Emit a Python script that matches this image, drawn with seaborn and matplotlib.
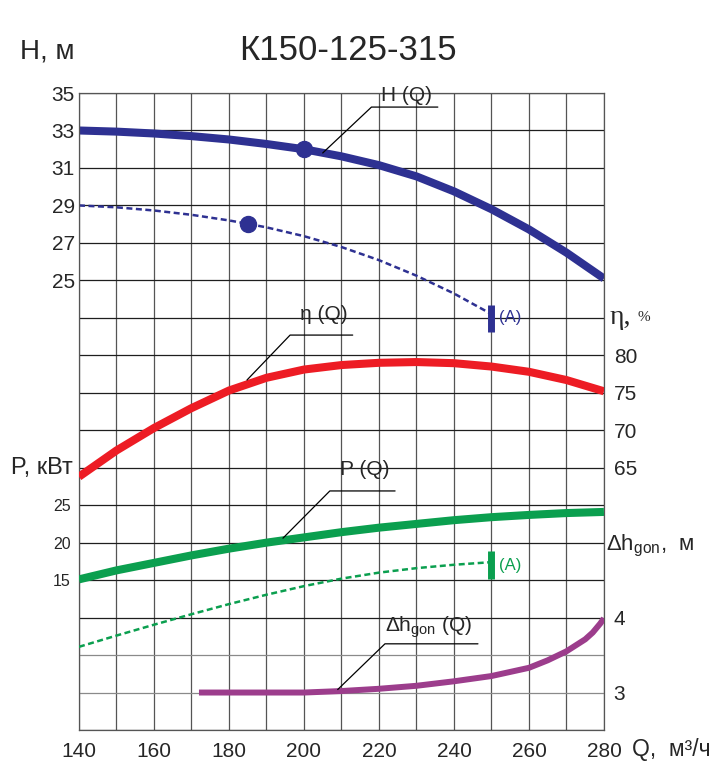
import numpy as np
import pandas as pd
import matplotlib
matplotlib.use("Agg")
import matplotlib.pyplot as plt
import matplotlib.transforms as mtransforms
import seaborn as sns

# --- values ---
q = [140, 150, 160, 170, 180, 190, 200, 210, 220, 230, 240, 250, 260, 270, 280]
head = [33.0, 32.94, 32.84, 32.7, 32.52, 32.28, 32.0, 31.62, 31.15, 30.55, 29.75, 28.8, 27.72, 26.48, 25.1]
eff = [63.8, 67.3, 70.3, 72.95, 75.3, 77.0, 78.1, 78.7, 79.0, 79.1, 78.95, 78.5, 77.8, 76.7, 75.2]
power = [15.1, 16.3, 17.3, 18.3, 19.2, 20.0, 20.7, 21.4, 22.0, 22.5, 23.0, 23.4, 23.7, 23.95, 24.1]

q_a = [140, 150, 160, 170, 180, 185, 190, 200, 210, 220, 230, 240, 250]
head_a = [29.0, 28.9, 28.73, 28.5, 28.2, 28.02, 27.83, 27.36, 26.78, 26.08, 25.25, 24.3, 23.2]
q_pa = [140, 150, 160, 170, 180, 190, 200, 210, 220, 230, 240, 250]
power_a = [6.1, 7.6, 9.05, 10.45, 11.8, 13.05, 14.2, 15.2, 16.0, 16.6, 17.05, 17.4]

q_dh = [172, 180, 190, 200, 210, 220, 230, 240, 250, 260, 265, 270, 275, 277, 279, 280]
npsh = [3.0, 3.0, 3.0, 3.0, 3.02, 3.05, 3.09, 3.15, 3.22, 3.33, 3.43, 3.55, 3.71, 3.8, 3.92, 3.99]

dot_q, dot_h = 200, 32.0
dot_qa, dot_ha = 185, 28.02
a_q = 250
a_head_span = [22.25, 23.7]
a_power_span = [15.2, 18.85]

blue = "#2e3192"
red = "#ed1c24"
green = "#0b9f4f"
purple = "#9c3d8c"

sns.set_style("white")
plt.rcParams['font.family'] = ['Liberation Sans', 'DejaVu Sans']
plt.rcParams['mathtext.fontset'] = 'custom'
plt.rcParams['mathtext.rm'] = 'Liberation Sans'

fig = plt.figure(figsize=(7.16, 7.72), dpi=100)
ax = fig.add_axes([0.1103, 0.0544, 0.7332, 0.8251])
ax.set_xlim(140, 280)
ax.set_ylim(1, 35)

xt = np.arange(140, 281, 10)
ax.set_xticks(xt)
ax.set_xticklabels([str(v) if v % 20 == 0 else '' for v in xt])
yt = np.arange(1, 36, 2)
ax.set_yticks(yt)
ax.set_yticklabels([str(v) if v >= 25 else '' for v in yt])
ax.tick_params(length=0, labelsize=15)
ax.tick_params(axis='x', pad=8.5)
ax.tick_params(axis='y', pad=3)
ax.grid(True, color='#555555', lw=0.9)
for v, gl in zip(yt, ax.get_ygridlines()):
    gl.set_color('#8a8a8a' if v in (3, 5) else '#1e1e1e')
for s in ax.spines.values():
    s.set_color('#555555')
    s.set_linewidth(0.9)


def twin(lo, hi):
    t = ax.twinx()
    t.set_ylim(lo, hi)
    for s in t.spines.values():
        s.set_visible(False)
    t.patch.set_visible(False)
    t.grid(False)
    t.tick_params(length=0)
    return t


ax_eta = twin(30, 115)
ax_eta.set_yticks([65, 70, 75, 80])
ax_eta.tick_params(labelsize=15, pad=7)

ax_p = twin(-5, 80)
ax_p.yaxis.tick_left()
ax_p.set_yticks([15, 20, 25])
ax_p.tick_params(labelsize=11.5, pad=6)

ax_dh = twin(2.5, 11)
ax_dh.set_yticks([3, 4])
ax_dh.tick_params(labelsize=15, pad=7)

thick = dict(lw=5.8, solid_capstyle='butt', solid_joinstyle='round')
dashed = dict(lw=1.8, linestyle=(0, (2.4, 1.4)))

# curves
sns.lineplot(x=q, y=head, ax=ax, color=blue, **thick)
sns.lineplot(x=q_a, y=head_a, ax=ax, color=blue, **dashed)
ax.plot([dot_q, dot_qa], [dot_h, dot_ha], 'o', color=blue, ms=11.5)
ax.plot([a_q, a_q], a_head_span, color=blue, lw=5, solid_capstyle='butt')

sns.lineplot(x=q, y=eff, ax=ax_eta, color=red, **thick)
sns.lineplot(x=q, y=power, ax=ax_p, color=green, **thick)
sns.lineplot(x=q_pa, y=power_a, ax=ax_p, color=green, **dashed)
ax_p.plot([a_q, a_q], a_power_span, color=green, lw=5, solid_capstyle='butt')
sns.lineplot(x=q_dh, y=npsh, ax=ax_dh, color=purple, lw=4.3,
             solid_capstyle='butt', solid_joinstyle='round')

for a in (ax, ax_eta, ax_p, ax_dh):
    a.set_xlabel('')
    a.set_ylabel('')
ax.set_xlim(140, 280)

# leader lines and labels
ax.plot([205, 218, 235.7], [31.8, 34.25, 34.25], color='k', lw=0.9, clip_on=False)
ax.text(220.5, 34.35, "H (Q)", fontsize=15, va='bottom')
ax_eta.plot([184.8, 196.3, 213], [76.7, 82.7, 82.7], color='k', lw=0.9)
ax_eta.text(199, 85.4, "η (Q)", fontsize=15, va='center')
ax_p.plot([194.4, 206.9, 224.3], [20.6, 26.9, 26.9], color='k', lw=0.9)
ax_p.text(209.6, 29.7, "P (Q)", fontsize=15, va='center')
ax_dh.plot([209, 221.6, 246.4], [3.04, 3.65, 3.65], color='k', lw=0.9)
ax_dh.text(221.6, 3.87, r"$\mathregular{\Delta h_{gon}}$ (Q)", fontsize=15, va='center')

ax.text(252, 23.0, "(A)", color=blue, fontsize=12, va='center')
ax_p.text(252, 17.0, "(A)", color=green, fontsize=12, va='center')

# axis titles
tr_h = mtransforms.blended_transform_factory(ax.transAxes, ax.transData)
ax.text(1.011, 23.0, "η,", transform=tr_h, fontsize=20, family='Liberation Serif', va='center')
ax.text(1.064, 23.0, "%", transform=tr_h, fontsize=11, family='Liberation Serif', va='center')
tr_p = mtransforms.blended_transform_factory(ax.transAxes, ax_p.transData)
ax_p.text(-0.012, 30, "P, кВт", transform=tr_p, fontsize=17, ha='right', va='center')
tr_dh = mtransforms.blended_transform_factory(ax.transAxes, ax_dh.transData)
ax_dh.text(1.004, 4.95, r"$\mathregular{\Delta h_{gon}}$,  м", transform=tr_dh, fontsize=16, va='center')
ax.text(1.053, -0.03, "Q,  м³/ч", transform=ax.transAxes, fontsize=16.5, va='center')

fig.text(0.028, 0.933, "H, м", fontsize=20, va='center')
fig.text(0.486, 0.935, "К150-125-315", fontsize=25, ha='center', va='center')

fig.savefig("out.png", dpi=100)
